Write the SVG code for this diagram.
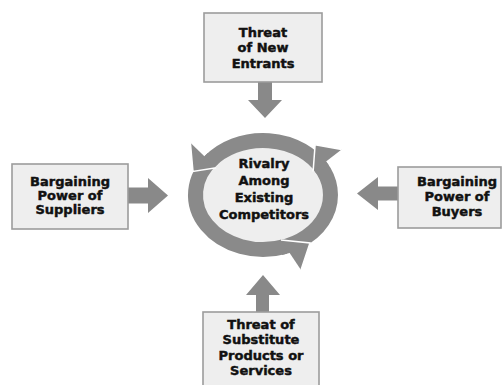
<svg xmlns="http://www.w3.org/2000/svg" width="502" height="385" viewBox="0 0 502 385">
<style>
.box{fill:#eeeeee;stroke:#9c9c9c;stroke-width:1.6}
.lbl{font-family:"DejaVu Sans",sans-serif;font-weight:bold;font-size:13px;fill:#111;stroke:#111;stroke-width:0.45;text-anchor:middle}
.arr{fill:#898989}
.ring{fill:none;stroke:#8a8a8a;stroke-width:15;stroke-linecap:butt}
.head{fill:#8a8a8a;stroke:#ffffff;stroke-width:1.5;stroke-linejoin:miter}
</style>
<rect width="502" height="385" fill="#ffffff"/>
<g id="connectors">
<path class="arr" d="M258,82 H272 V100 H282 L265,118 L248,100 H258 Z"/>
<path class="arr" d="M128,187.5 H148 V178 L168,195.5 L148,213 V203.5 H128 Z"/>
<path class="arr" d="M398,186.5 H378 V177 L357,193.5 L378,210 V200.5 H398 Z"/>
<path class="arr" d="M256,312 V295 H246 L263,275 L280,295 H269 V312 Z"/>
</g>
<g id="rivalry">
<ellipse cx="263" cy="195" rx="61" ry="48" fill="#eeeeee"/>
<path class="ring" d="M280.47,247.64 A67.5,54.5 0 0 0 320.24,166.12"/>
<path class="ring" d="M322.60,169.41 A67.5,54.5 0 0 0 209.81,161.44"/>
<path class="ring" d="M212.84,158.53 A67.5,54.5 0 0 0 284.98,246.53"/>
<path class="head" d="M313.1,171.6 L315.1,144.8 L341.6,149.6"/>
<path class="head" d="M216.3,167.7 L193,171.5 L190.4,142.7"/>
<path class="head" d="M281,240 L310,243 L301,270"/>
<text class="lbl" x="264" y="167.5">Rivalry</text>
<text class="lbl" x="264" y="184.7">Among</text>
<text class="lbl" x="264" y="201.9">Existing</text>
<text class="lbl" x="264" y="219.1">Competitors</text>
</g>
<g id="new-entrants">
<rect class="box" x="204" y="13" width="118" height="69"/>
<text class="lbl" x="263" y="36.7">Threat</text>
<text class="lbl" x="263" y="52.3">of New</text>
<text class="lbl" x="263" y="67.7">Entrants</text>
</g>
<g id="suppliers">
<rect class="box" x="12" y="164" width="116" height="65"/>
<text class="lbl" x="70" y="185.7">Bargaining</text>
<text class="lbl" x="70" y="200">Power of</text>
<text class="lbl" x="70" y="214.3">Suppliers</text>
</g>
<g id="buyers">
<rect class="box" x="398" y="167" width="103" height="61"/>
<text class="lbl" x="457" y="186">Bargaining</text>
<text class="lbl" x="457" y="200.7">Power of</text>
<text class="lbl" x="457" y="215.7">Buyers</text>
</g>
<g id="substitutes">
<rect class="box" x="203" y="312" width="116" height="80"/>
<text class="lbl" x="261" y="329.3">Threat of</text>
<text class="lbl" x="261" y="344.3">Substitute</text>
<text class="lbl" x="261" y="359.5">Products or</text>
<text class="lbl" x="261" y="375">Services</text>
</g>
</svg>
